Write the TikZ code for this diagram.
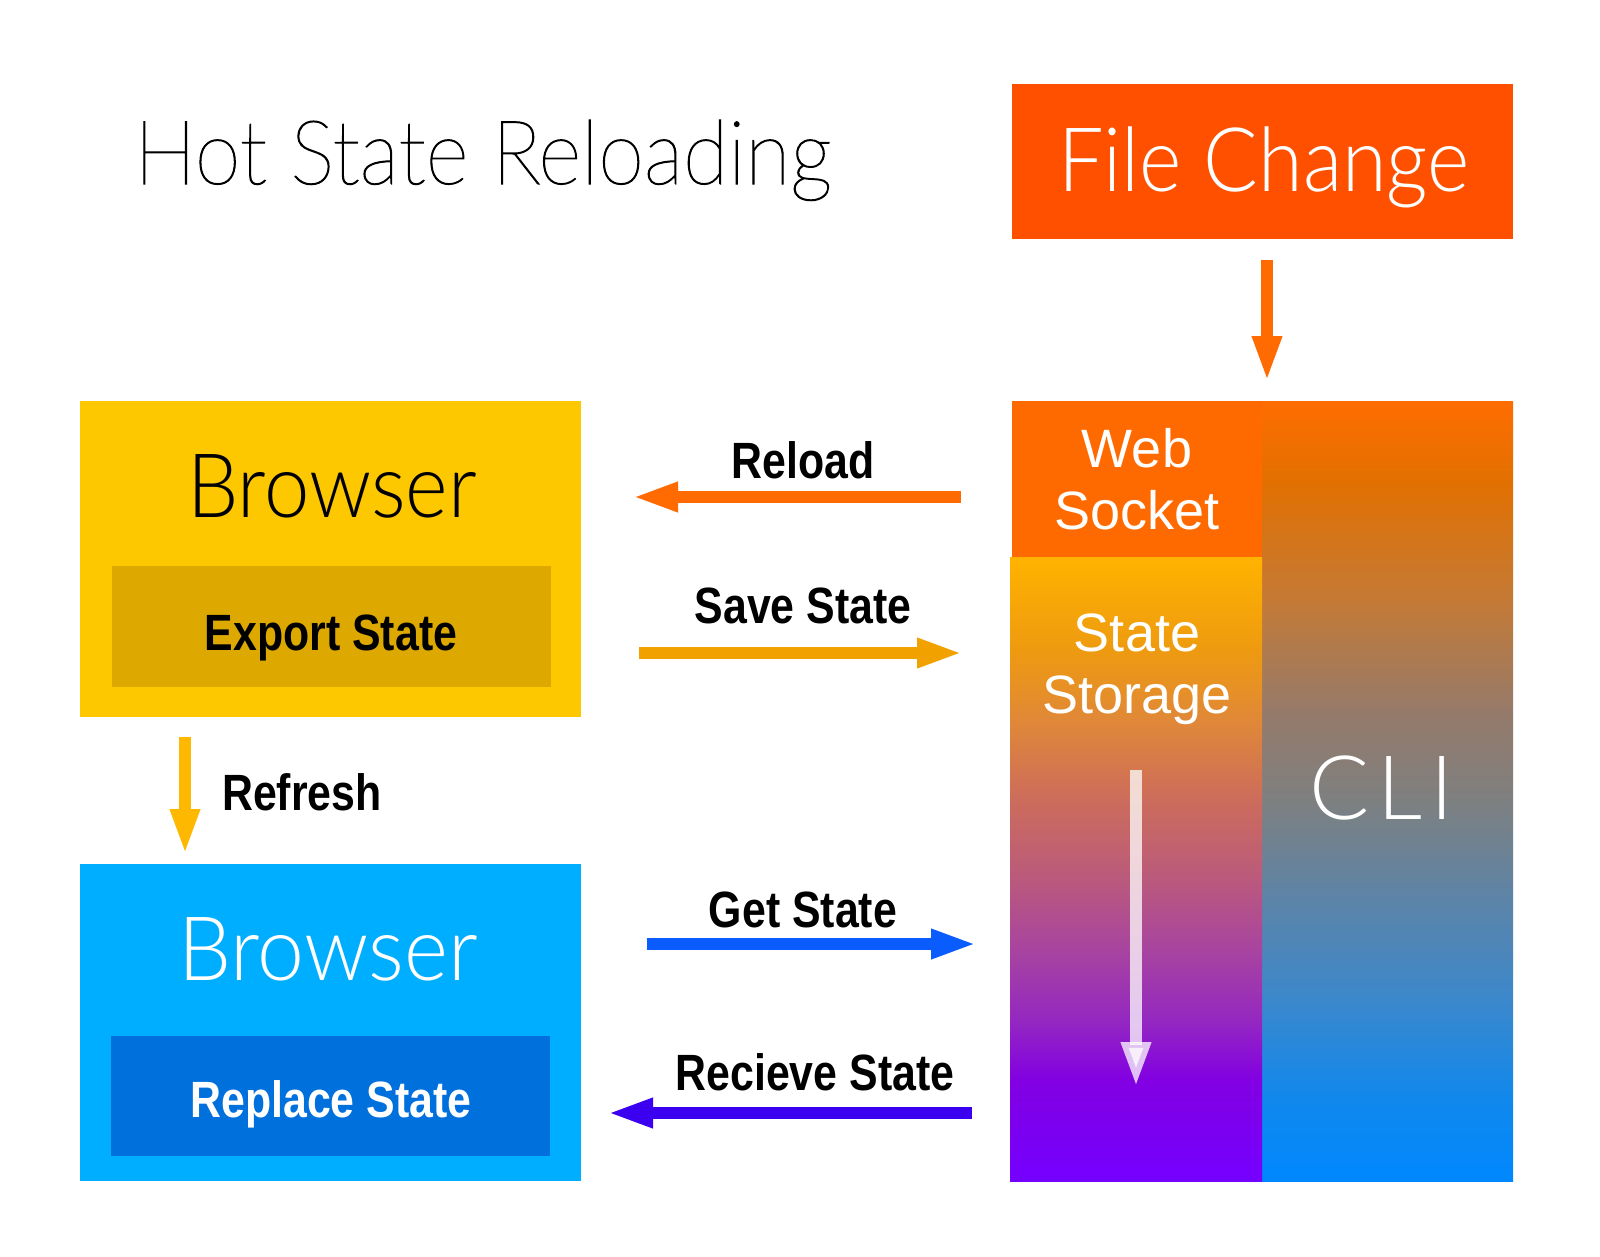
\documentclass[tikz,border=0pt]{standalone}
\usepackage{fontspec}
\setmainfont{Liberation Sans}
\newfontfamily\titlef{Lato Thin}[FakeStretch=0.93, FakeBold=1.2]
\newfontfamily\fcf{Lato Light}[FakeStretch=0.91]
\newfontfamily\brya{Lato Light}[FakeStretch=0.915]
\newfontfamily\bryb{Lato Light}[FakeStretch=0.945]
\newfontfamily\clif{Lato Light}
\newfontfamily\condb{Liberation Sans Bold}[FakeStretch=0.84]
\usetikzlibrary{arrows.meta}
\definecolor{fcorange}{HTML}{FF5000}
\definecolor{wsorange}{HTML}{FF6A00}
\definecolor{reloadc}{HTML}{FF6B00}
\definecolor{savec}{HTML}{F2A200}
\definecolor{refreshc}{HTML}{FFB800}
\definecolor{getc}{HTML}{0A5CFF}
\definecolor{recvc}{HTML}{3C00F0}
\definecolor{yellowbox}{HTML}{FDC800}
\definecolor{exportbox}{HTML}{DDA800}
\definecolor{bluebox}{HTML}{00AEFF}
\definecolor{replacebox}{HTML}{0070DD}
% CLI gradient
\definecolor{ca}{HTML}{FF6D00}
\definecolor{cb}{HTML}{E27000}
\definecolor{cc}{HTML}{C47A36}
\definecolor{cd}{HTML}{957A6A}
\definecolor{ce}{HTML}{7E8080}
\definecolor{cf}{HTML}{5C84A8}
\definecolor{cg}{HTML}{3C88CC}
\definecolor{ch}{HTML}{1088EC}
\definecolor{ci}{HTML}{0088FF}
% storage gradient
\definecolor{sa}{HTML}{FFB300}
\definecolor{sb}{HTML}{EE9A10}
\definecolor{sc}{HTML}{E08838}
\definecolor{sd}{HTML}{CC6C5C}
\definecolor{se}{HTML}{BC5C78}
\definecolor{sf}{HTML}{A844A0}
\definecolor{sg}{HTML}{9428C0}
\definecolor{sh}{HTML}{8200E2}
\definecolor{si}{HTML}{7400FF}
\pgfdeclareverticalshading{clishade}{100bp}{color(0bp)=(ci); color(25bp)=(ci); color(30.2bp)=(ch); color(36.6bp)=(cg); color(43bp)=(cf); color(49.4bp)=(ce); color(55bp)=(cd); color(62.2bp)=(cc); color(69.9bp)=(cb); color(75bp)=(ca); color(100bp)=(ca)}
\pgfdeclareverticalshading{storeshade}{100bp}{color(0bp)=(si); color(25bp)=(si); color(33.1bp)=(sh); color(37.9bp)=(sg); color(43.5bp)=(sf); color(49.9bp)=(se); color(55.5bp)=(sd); color(61.9bp)=(sc); color(67.5bp)=(sb); color(75bp)=(sa); color(100bp)=(sa)}
\tikzset{
  boxnode/.style={rectangle, draw=none, inner sep=0pt, outer sep=0pt, anchor=north west},
  bigtext/.style={font=\fontsize{89}{89}\selectfont, anchor=base, inner sep=0pt},
  condlabel/.style={font=\condb\fontsize{51}{51}\selectfont, anchor=base, inner sep=0pt, text=black},
  innerlabel/.style={font=\condb\fontsize{51}{51}\selectfont, anchor=base, inner sep=0pt},
  reglabel/.style={font=\fontsize{54}{54}\selectfont, anchor=base, inner sep=0pt, text=white},
  flowarrow/.style={line width=12pt, -{Triangle[length=46pt,width=27pt]}},
}
\begin{document}
\begin{tikzpicture}[x=1pt,y=-1pt]
\useasboundingbox[fill=white] (0,0) rectangle (1600,1256);
% title
\node[bigtext, anchor=base west] (title) at (134,184) {\titlef Hot State Reloading};
% File change
\node[boxnode, fill=fcorange, minimum width=501pt, minimum height=155pt] (fc) at (1012,84) {};
\node[bigtext, text=white] (fctext) at (1264,191) {\fcf File Change};
% right column
\node[boxnode, minimum width=251pt, minimum height=780pt, shading=clishade] (cli) at (1262,401) {};
\node[boxnode, fill=wsorange, minimum width=250pt, minimum height=156pt] (ws) at (1012,401) {};
\node[boxnode, minimum width=252pt, minimum height=624pt, shading=storeshade] (store) at (1010,557) {};
\node[reglabel] (wst1) at (1137,467) {Web};
\node[reglabel] (wst2) at (1137,529) {Socket};
\node[reglabel] (sst1) at (1137,651) {State};
\node[reglabel] (sst2) at (1137,713) {Storage};
\node[bigtext, text=white] (clitext) at (1382,819) {\clif C\kern8pt L\kern8pt I};
% browsers
\node[boxnode, fill=yellowbox, minimum width=501pt, minimum height=316pt] (b1) at (80,401) {};
\node[boxnode, fill=exportbox, minimum width=439pt, minimum height=121pt] (export) at (112,566) {};
\node[bigtext, text=black] (b1text) at (332,517) {\brya Browser};
\node[innerlabel, text=black] (exporttext) at (331,650) {Export State};
\node[boxnode, fill=bluebox, minimum width=501pt, minimum height=317pt] (b2) at (80,864) {};
\node[boxnode, fill=replacebox, minimum width=439pt, minimum height=120pt] (replace) at (111,1036) {};
\node[bigtext, text=white] (b2text) at (328,980) {\bryb Browser};
\node[innerlabel, text=white] (replacetext) at (331,1117) {Replace State};
% arrow end points
\coordinate (fcA) at (1267,260);
\coordinate (fcB) at (1267,382);
\coordinate (rlA) at (961,497);
\coordinate (rlB) at (632,497);
\coordinate (svA) at (639,653);
\coordinate (svB) at (963,653);
\coordinate (gtA) at (647,944);
\coordinate (gtB) at (977,944);
\coordinate (rcA) at (972,1113);
\coordinate (rcB) at (607,1113);
\coordinate (rfA) at (185,737);
\coordinate (rfB) at (185,855);
\coordinate (stA) at (1136,770);
\coordinate (stB) at (1136,1088);
\draw[flowarrow, reloadc] (fcA) -- (fcB);
\draw[flowarrow, reloadc] (rlA) -- (rlB);
\draw[flowarrow, savec] (svA) -- (svB);
\draw[flowarrow, getc] (gtA) -- (gtB);
\draw[flowarrow, recvc] (rcA) -- (rcB);
\draw[flowarrow, refreshc] (rfA) -- (rfB);
\draw[flowarrow, white, opacity=0.75] (stA) -- (stB);
% arrow labels
\node[condlabel] (reloadl) at (803,478) {Reload};
\node[condlabel] (savel) at (803,623) {Save State};
\node[condlabel] (getl) at (803,927) {Get State};
\node[condlabel] (recvl) at (815,1090) {Recieve State};
\node[condlabel, anchor=base west] (refreshl) at (222,810) {Refresh};
\end{tikzpicture}
\end{document}
